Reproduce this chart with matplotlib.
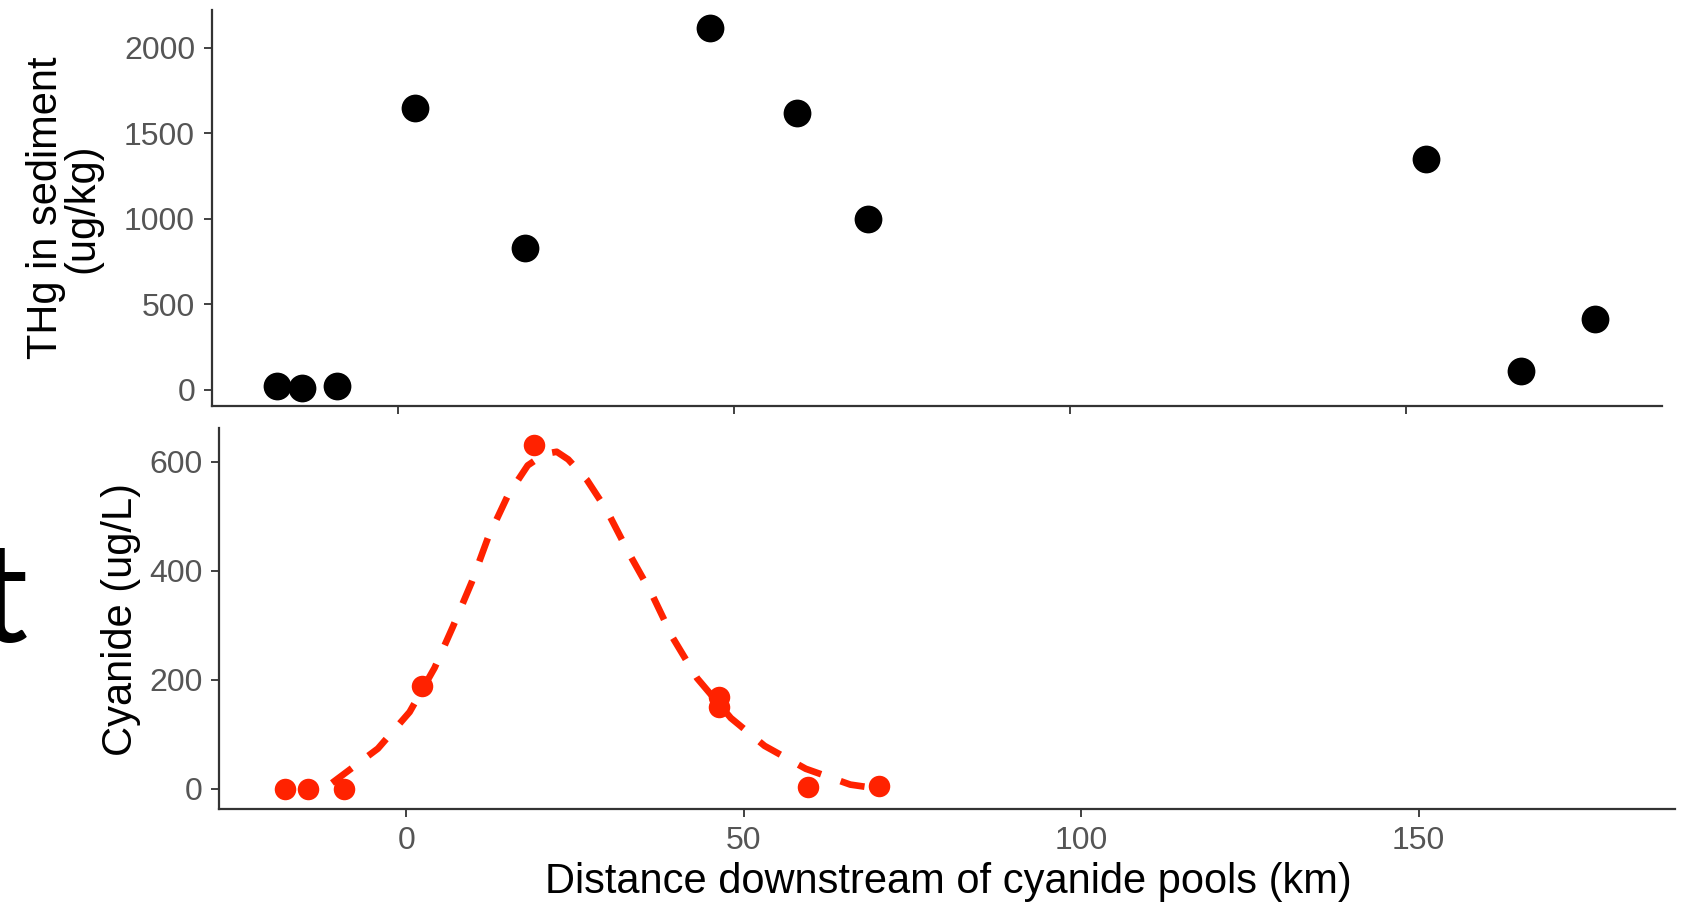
import matplotlib.pyplot as plt

# sediment mercury (top panel)
hg_km = [-18.0, -14.2, -9.1, 2.5, 18.9, 46.4, 59.3, 70.0, 153.0, 167.1, 178.1]
hg_val = [25, 10, 25, 1645, 827, 2114, 1619, 997, 1348, 113, 413]

# cyanide in water (bottom panel)
cn_km = [-18.0, -14.5, -9.2, 2.4, 19.0, 46.4, 46.4, 59.5, 70.1]
cn_val = [0, 0, 0, 189, 630, 169, 151, 4, 5]

# fitted curve
fit_km = [-11.0, -4.2, 0.5, 4.2, 6.9, 9.7, 12.1, 15.1, 18.0, 20.5, 22.3, 24.0,
          26.8, 29.7, 33.0, 36.4, 39.5, 43.1, 48.1, 53.1, 59.2, 65.8, 70.3]
fit_val = [11, 74, 141, 222, 297, 379, 460, 539, 593, 614, 618, 604,
           566, 511, 432, 357, 277, 203, 130, 79, 37, 8, 0]

x_ticks = [0, 50, 100, 150]
hg_ticks = [0, 500, 1000, 1500, 2000]
cn_ticks = [0, 200, 400, 600]

plt.rcParams['font.family'] = ['Liberation Sans', 'DejaVu Sans']

W, H = 1686, 906
fig = plt.figure(figsize=(W / 100, H / 100), dpi=100)
ax1 = fig.add_axes([211.7 / W, 1 - 406 / H, 1450 / W, 396 / H])
ax2 = fig.add_axes([219.3 / W, 1 - 809 / H, 1455.7 / W, 380.7 / H])

red = '#ff2200'
ax1.scatter(hg_km, hg_val, s=400, color='black', linewidths=0, zorder=3)
ax2.scatter(cn_km, cn_val, s=240, color=red, linewidths=0, zorder=3)
ax2.plot(fit_km, fit_val, color=red, lw=4.8, linestyle=(0, (3.7, 3.1)),
         solid_capstyle='butt', dash_capstyle='butt', zorder=4)

for ax in (ax1, ax2):
    ax.set_xlim(-27.7, 188)
    ax.set_xticks(x_ticks)
    for s in ('top', 'right'):
        ax.spines[s].set_visible(False)
    for s in ('left', 'bottom'):
        ax.spines[s].set_color('#333333')
        ax.spines[s].set_linewidth(1.6)
    ax.tick_params(length=6, width=1.3, color='#333333', labelcolor='#555555',
                   labelsize=23, pad=6)

ax1.set_ylim(-93.5, 2220)
ax1.set_yticks(hg_ticks)
ax1.set_xticklabels([])
ax2.set_ylim(-36.7, 661)
ax2.set_yticks(cn_ticks)

fig.text(64 / W, 1 - 208 / H, 'THg in sediment\n(ug/kg)', rotation=90,
         ha='center', va='center', fontsize=30, linespacing=0.88)
fig.text(121 / W, 1 - 619 / H, 'Cyanide (ug/L)', rotation=90,
         ha='center', va='center', fontsize=30)
fig.text(948 / W, 1 - 882 / H, 'Distance downstream of cyanide pools (km)',
         ha='center', va='center', fontsize=30)

# leftover letter from the slide behind the chart
fig.text(-22 / W, 1 - 642 / H, 't', ha='left', va='baseline', fontsize=101,
         family='Lato', fontweight='normal', color='black')

fig.savefig('out.png', dpi=100)
